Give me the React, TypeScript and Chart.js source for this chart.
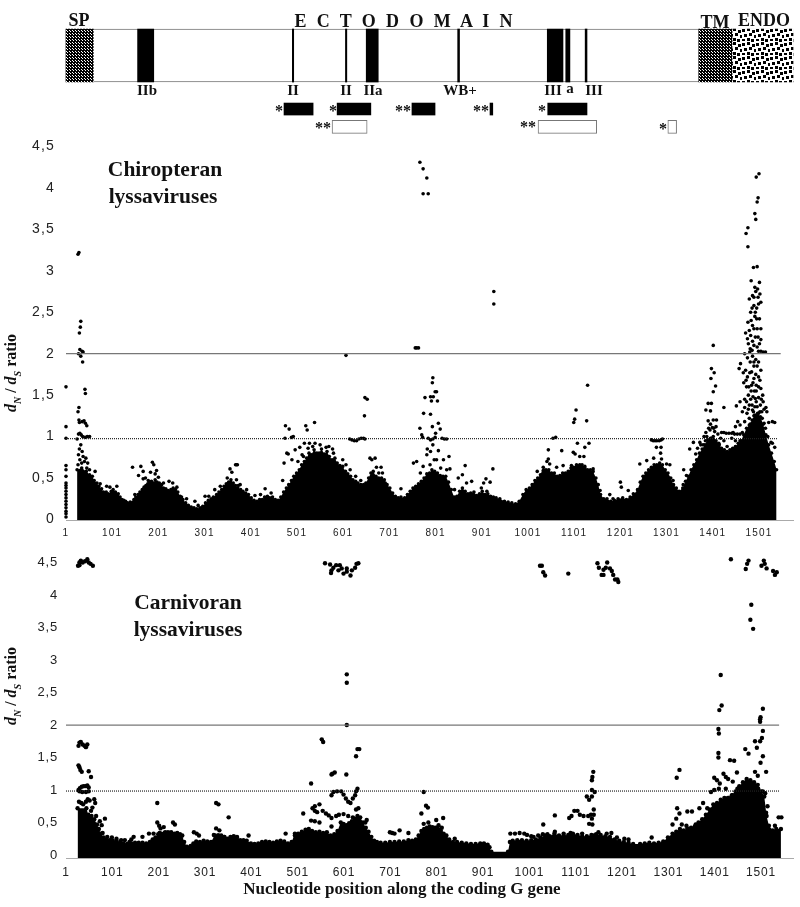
import React, { useEffect, useRef } from "react";
import { Chart, registerables } from "chart.js";
Chart.register(...registerables);

const xTickValues = [1, 101, 201, 301, 401, 501, 601, 701, 801, 901, 1001, 1101, 1201, 1301, 1401, 1501];
const yTickValues = [0, 0.5, 1, 1.5, 2, 2.5, 3, 3.5, 4, 4.5];

const chiroStart: number[][] = [[1,0.03],[1,0.07],[1,0.1],[1,0.14],[1,0.18],[1,0.22],[1,0.26],[1,0.3],[1,0.34],[1,0.38],[1,0.41],[1,0.44],[1,0.52],[1,0.6],[1,0.65],[1,0.98],[1,1.12],[1,1.6],[27,3.2],[29,3.22],[33,2.39],[32,2.32],[30,2.25],[31,2.05],[28,2.0],[36,2.03],[33,1.97],[38,2.02],[37,1.9],[42,1.57],[43,1.52],[29,1.35],[27,1.3],[29,1.2],[30,1.17],[36,1.18],[40,1.19],[43,1.16],[46,1.13],[28,1.03],[31,1.04],[34,1.02],[37,1.0],[42,0.99],[47,1.0],[52,1.0],[25,0.97],[30,0.85],[33,0.9],[36,0.82],[28,0.78],[31,0.72],[38,0.76],[41,0.7],[44,0.74],[48,0.68],[27,0.66],[35,0.68],[46,0.62],[52,0.6],[64,0.58],[47,0.51],[75,0.43],[89,0.4],[96,0.39],[111,0.4],[107,0.29],[126,0.23],[145,0.63],[163,0.64],[158,0.53],[168,0.58],[168,0.49],[188,0.69],[191,0.66],[197,0.59],[184,0.57],[179,0.47],[201,0.51],[224,0.46],[241,0.39],[251,0.27],[280,0.22],[287,0.17],[302,0.28],[323,0.36],[356,0.61],[368,0.66],[370,0.66],[372,0.66],[360,0.57],[370,0.48],[374,0.41],[410,0.29],[432,0.37],[150,0.3],[173,0.5],[194,0.55],[212,0.44],[232,0.44],[262,0.25],[310,0.28],[335,0.4],[350,0.5],[378,0.42],[392,0.36],[422,0.3],[445,0.32]];
const chiroMiddle: number[][] = [[476,1.13],[484,1.09],[520,1.13],[523,1.08],[539,1.17],[489,0.99],[475,0.98],[493,1.0],[607,1.98],[647,1.25],[648,1.47],[653,1.45],[757,2.07],[760,2.07],[764,2.07],[795,1.71],[794,1.65],[800,1.54],[803,1.54],[778,1.47],[790,1.48],[796,1.48],[792,1.43],[805,1.43],[775,1.28],[790,1.27],[807,1.16],[794,1.12],[767,1.1],[811,1.09],[801,1.04],[771,1.02],[785,0.98],[790,0.96],[795,0.97],[800,0.99],[815,0.98],[820,0.97],[825,0.97],[773,0.99],[615,0.97],[620,0.96],[625,0.95],[630,0.95],[635,0.97],[640,0.98],[645,0.98],[648,0.97],[767,4.31],[774,4.23],[782,4.12],[774,3.93],[785,3.93],[927,2.75],[927,2.6],[470,0.47],[473,0.68],[479,0.8],[482,0.79],[490,0.72],[497,0.84],[507,0.87],[515,0.76],[517,0.92],[528,0.92],[540,0.92],[551,0.9],[564,0.87],[578,0.85],[580,0.8],[607,0.66],[616,0.6],[591,0.58],[639,0.47],[659,0.74],[663,0.72],[670,0.74],[673,0.63],[683,0.63],[686,0.56],[692,0.44],[726,0.37],[753,0.68],[760,0.7],[774,0.64],[782,0.78],[789,0.66],[798,0.72],[803,0.72],[807,0.83],[818,0.72],[830,0.76],[832,0.61],[850,0.5],[859,0.54],[865,0.65],[868,0.44],[879,0.46],[910,0.49],[919,0.45],[925,0.61],[912,0.34],[795,0.9],[790,0.82],[783,0.85],[503,0.7],[512,0.78],[525,0.86],[535,0.88],[570,0.88],[600,0.72],[628,0.52],[678,0.56],[768,0.56],[812,0.62],[825,0.6],[842,0.36],[900,0.38],[905,0.44]];
const chiroRight: number[][] = [[1130,1.62],[1105,1.32],[1102,1.21],[1100,1.17],[1128,1.19],[1055,0.98],[1061,0.99],[1108,0.92],[1133,0.92],[1124,0.87],[1045,0.84],[1074,0.83],[1099,0.81],[1103,0.79],[1113,0.76],[1122,0.76],[1045,0.73],[1042,0.7],[1021,0.58],[1034,0.59],[1048,0.67],[1063,0.63],[1077,0.65],[1095,0.65],[1113,0.66],[1124,0.62],[1142,0.61],[1157,0.35],[1178,0.3],[1201,0.45],[1203,0.39],[1218,0.35],[1229,0.31],[1185,0.25],[1243,0.67],[1258,0.71],[1273,0.74],[1290,0.73],[1301,0.67],[1308,0.66],[1315,0.47],[1338,0.6],[1344,0.53],[1337,0.42],[1268,0.96],[1272,0.95],[1276,0.95],[1280,0.95],[1285,0.95],[1289,0.96],[1292,0.97],[1279,0.87],[1289,0.87],[1288,0.8],[1359,0.93],[1351,0.85],[1364,0.79],[1373,0.93],[1402,2.1],[1398,1.82],[1404,1.77],[1397,1.7],[1407,1.61],[1402,1.54],[1391,1.4],[1398,1.4],[1396,1.31],[1386,1.32],[1425,1.35],[1391,1.19],[1402,1.2],[1409,1.2],[1400,1.11],[1395,1.08],[1405,1.06],[1388,1.0],[1398,0.98],[1380,0.9],[1390,0.92],[1415,0.9],[1420,1.05],[1425,1.05],[1430,1.04],[1436,1.04],[1442,1.04],[1448,1.03],[1454,1.03],[1460,1.03],[1382,1.0],[1386,1.05],[1392,1.1],[1396,1.15],[1403,1.1],[1408,1.12],[1412,1.03],[1418,0.98],[1385,0.95],[1375,0.9],[1368,0.86]];
const chiroPeak: number[][] = [[1501,4.17],[1495,4.13],[1499,3.88],[1497,3.83],[1492,3.69],[1494,3.62],[1477,3.52],[1473,3.45],[1477,3.29],[1497,3.05],[1489,3.04],[1484,2.88],[1502,2.86],[1492,2.8],[1498,2.78],[1487,2.7],[1480,2.66],[1505,2.62],[1490,2.58],[1496,2.55],[1500,2.6],[1483,2.5],[1492,2.45],[1502,2.42],[1477,2.38],[1487,2.34],[1497,2.3],[1472,2.25],[1483,2.22],[1493,2.2],[1505,2.17],[1478,2.12],[1490,2.1],[1497,2.08],[1510,2.02],[1515,2.02],[1470,2.0],[1481,2.02],[1476,1.95],[1487,1.97],[1494,1.93],[1500,1.9],[1458,1.82],[1461,1.88],[1467,1.77],[1481,1.77],[1473,1.68],[1490,1.85],[1500,1.72],[1485,1.62],[1495,1.62],[1505,1.58],[1478,1.5],[1488,1.48],[1500,1.47],[1470,1.45],[1510,1.42],[1460,1.42],[1480,1.38],[1492,1.36],[1503,1.3],[1516,1.35],[1518,1.3],[1452,1.37],[1465,1.3],[1475,1.28],[1490,1.25],[1508,1.22],[1455,1.18],[1450,1.12],[1460,1.14],[1470,1.18],[1482,1.15],[1497,1.18],[1512,1.16],[1522,1.17],[1530,1.18],[1535,1.17],[1465,1.05],[1477,1.03],[1510,1.05],[1520,1.0],[1527,0.93],[1535,0.87],[1530,0.92],[1445,1.05],[1442,0.98],[1450,0.95],[1520,0.7],[1530,0.7],[1490,1.7],[1484,1.55],[1495,1.42],[1487,1.32],[1480,1.22],[1502,1.12],[1495,1.55],[1490,1.9],[1474,1.6],[1505,1.8],[1515,1.1],[1460,0.95],[1467,0.9],[1425,0.95],[1432,0.88],[1437,0.8],[1468,1.65],[1472,1.8],[1476,1.72],[1479,1.6],[1482,1.9],[1485,1.78],[1488,1.65],[1491,1.55],[1494,1.75],[1497,1.85],[1500,1.6],[1503,1.68],[1506,1.45],[1509,1.5],[1512,1.33],[1470,1.35],[1474,1.42],[1478,1.33],[1483,1.45],[1486,1.38],[1489,1.3],[1493,1.46],[1497,1.36],[1500,1.28],[1504,1.38],[1507,1.3],[1476,2.18],[1480,2.28],[1484,2.4],[1487,2.15],[1490,2.3],[1493,2.5],[1496,2.42],[1499,2.2],[1502,2.12],[1505,2.3],[1486,2.55],[1490,2.68],[1494,2.75],[1499,2.68],[1503,2.72],[1482,2.06],[1486,2.04],[1500,2.03],[1505,2.03]];
const chiroEdge: number[][] = [[25,0.6],[35,0.62],[45,0.58],[52,0.54],[58,0.52],[62,0.47],[68,0.44],[72,0.4],[78,0.37],[82,0.33],[88,0.33],[92,0.31],[99,0.34],[103,0.36],[108,0.33],[114,0.31],[118,0.27],[122,0.24],[130,0.22],[134,0.2],[140,0.21],[148,0.24],[152,0.27],[157,0.3],[161,0.33],[166,0.36],[170,0.39],[174,0.41],[178,0.43],[182,0.45],[186,0.46],[190,0.44],[194,0.48],[198,0.45],[203,0.44],[208,0.42],[212,0.38],[217,0.37],[222,0.35],[228,0.36],[233,0.38],[238,0.36],[243,0.33],[248,0.28],[254,0.24],[260,0.2],[266,0.17],[272,0.15],[278,0.14],[284,0.13],[291,0.14],[297,0.16],[303,0.2],[309,0.23],[315,0.25],[320,0.27],[327,0.3],[332,0.33],[338,0.36],[343,0.4],[348,0.43],[353,0.45],[358,0.48],[363,0.44],[368,0.41],[373,0.38],[379,0.36],[384,0.34],[390,0.32],[396,0.3],[402,0.26],[408,0.23],[414,0.22],[420,0.24],[426,0.24],[431,0.27],[437,0.28],[442,0.26],[448,0.27],[454,0.24],[460,0.23],[466,0.27],[472,0.33],[478,0.38],[483,0.42],[489,0.47],[494,0.52],[500,0.56],[506,0.6],[511,0.66],[517,0.7],[522,0.74],[527,0.8],[532,0.78],[538,0.84],[544,0.8],[549,0.8],[554,0.85],[560,0.79],[566,0.82],[571,0.76],[577,0.72],[583,0.74],[588,0.68],[594,0.65],[600,0.64],[606,0.58],[611,0.55],[617,0.52],[622,0.48],[628,0.46],[633,0.44],[639,0.42],[645,0.42],[650,0.44],[656,0.5],[661,0.56],[666,0.58],[672,0.52],[678,0.5],[684,0.5],[690,0.48],[696,0.42],[702,0.38],[708,0.32],[714,0.28],[720,0.26],[726,0.27],[734,0.26],[740,0.3],[746,0.34],[752,0.38],[758,0.4],[764,0.43],[770,0.46],[776,0.5],[782,0.55],[788,0.56],[793,0.6],[799,0.58],[805,0.56],[811,0.53],[817,0.52],[823,0.52],[829,0.45],[835,0.36],[841,0.27],[847,0.28],[853,0.34],[859,0.38],[865,0.34],[871,0.31],[877,0.32],[884,0.33],[890,0.29],[896,0.31],[902,0.34],[908,0.3],[914,0.31],[920,0.28],[926,0.27],[932,0.26],[940,0.25],[950,0.22],[958,0.21],[966,0.2],[974,0.19],[982,0.22],[990,0.3],[997,0.36],[1004,0.38],[1010,0.42],[1016,0.47],[1022,0.5],[1028,0.54],[1034,0.63],[1040,0.6],[1046,0.6],[1052,0.56],[1058,0.56],[1064,0.52],[1070,0.53],[1076,0.56],[1082,0.56],[1088,0.58],[1094,0.62],[1100,0.63],[1106,0.66],[1112,0.64],[1118,0.66],[1124,0.64],[1130,0.6],[1136,0.6],[1142,0.58],[1148,0.5],[1153,0.42],[1158,0.3],[1165,0.25],[1172,0.25],[1180,0.22],[1188,0.23],[1196,0.25],[1206,0.26],[1214,0.24],[1222,0.27],[1230,0.3],[1238,0.36],[1244,0.45],[1250,0.52],[1256,0.56],[1262,0.6],[1268,0.63],[1274,0.66],[1280,0.66],[1286,0.68],[1292,0.66],[1298,0.6],[1304,0.56],[1310,0.5],[1316,0.42],[1322,0.38],[1328,0.34],[1336,0.38],[1342,0.46],[1348,0.52],[1354,0.6],[1360,0.66],[1366,0.72],[1372,0.8],[1378,0.85],[1384,0.9],[1390,0.96],[1396,0.98],[1402,1.0],[1408,0.95],[1414,0.92],[1420,0.86],[1426,0.84],[1432,0.82],[1438,0.84],[1444,0.86],[1450,0.88],[1456,0.92],[1462,0.95],[1468,1.02],[1474,1.1],[1480,1.14],[1486,1.2],[1492,1.26],[1498,1.28],[1504,1.24],[1510,1.15],[1516,1.02],[1522,0.9],[1528,0.8],[1534,0.7],[1539,0.6]];

const carniTop: number[][] = [[27,4.45],[30,4.5],[33,4.53],[36,4.58],[40,4.6],[44,4.6],[47,4.55],[50,4.5],[54,4.48],[59,4.45],[30,4.46],[37,4.5],[42,4.52],[560,4.49],[571,4.47],[573,4.34],[578,4.42],[584,4.46],[592,4.46],[574,4.38],[589,4.38],[600,4.33],[596,4.41],[607,4.41],[607,4.36],[615,4.3],[618,4.38],[625,4.42],[632,4.49],[628,4.48],[1024,4.45],[1028,4.45],[1031,4.35],[1035,4.3],[1085,4.33],[1148,4.49],[1151,4.42],[1157,4.31],[1161,4.31],[1161,4.39],[1169,4.5],[1166,4.42],[1175,4.41],[1179,4.37],[1182,4.31],[1186,4.24],[1191,4.24],[1193,4.2],[1436,4.55],[1474,4.53],[1471,4.48],[1468,4.4],[1507,4.53],[1502,4.45],[1509,4.48],[1513,4.41],[1527,4.37],[1535,4.35],[1531,4.31],[1480,3.85],[1478,3.62],[1484,3.48],[607,2.78],[607,2.65],[607,2.0],[1414,2.77],[1416,2.3],[1411,2.23],[1505,2.25],[1500,2.12],[1499,2.05]];
const carniLeft: number[][] = [[28,1.68],[30,1.73],[33,1.74],[37,1.7],[41,1.68],[44,1.66],[47,1.7],[28,1.38],[30,1.35],[32,1.31],[35,1.28],[50,1.29],[55,1.2],[28,1.0],[31,1.03],[35,1.05],[39,1.06],[43,1.06],[47,1.07],[50,1.04],[30,0.98],[36,0.97],[44,0.97],[50,0.98],[29,0.82],[34,0.8],[38,0.78],[44,0.82],[48,0.86],[52,0.84],[62,0.86],[58,0.73],[64,0.8],[55,0.68],[66,0.6],[74,0.52],[85,0.56],[78,0.46],[80,0.34],[90,0.28],[100,0.27],[110,0.25],[120,0.23],[128,0.23],[138,0.2],[142,0.24],[147,0.28],[166,0.28],[180,0.33],[190,0.33],[198,0.8],[198,0.5],[202,0.45],[205,0.41],[212,0.43],[203,0.34],[215,0.35],[225,0.34],[232,0.5],[236,0.47],[243,0.3],[277,0.35],[283,0.33],[288,0.3],[325,0.8],[330,0.78],[325,0.41],[332,0.38],[320,0.31],[330,0.3],[352,0.58],[342,0.28],[362,0.28],[370,0.28],[395,0.3]];
const carniMid: number[][] = [[553,1.78],[556,1.74],[630,1.63],[634,1.63],[627,1.52],[581,1.27],[576,1.25],[574,1.24],[606,1.24],[530,1.1],[630,1.02],[627,0.98],[773,0.97],[574,0.92],[578,0.97],[586,0.98],[595,0.98],[600,0.93],[605,0.87],[610,0.82],[615,0.8],[620,0.87],[625,0.92],[513,0.64],[533,0.72],[538,0.75],[548,0.78],[538,0.68],[543,0.66],[555,0.68],[530,0.53],[538,0.52],[548,0.5],[562,0.64],[568,0.61],[574,0.57],[584,0.6],[590,0.62],[600,0.63],[610,0.6],[620,0.58],[627,0.7],[632,0.72],[574,0.44],[475,0.33],[700,0.35],[705,0.34],[710,0.33],[721,0.38],[740,0.34],[840,0.25],[768,0.64],[778,0.76],[782,0.73],[773,0.48],[783,0.5],[800,0.54],[815,0.57],[805,0.46],[812,0.42],[650,0.54],[647,0.5],[495,0.3],[505,0.3],[960,0.33],[970,0.33],[980,0.34],[990,0.33],[996,0.31],[1010,0.28],[1020,0.3]];
const carniRight: number[][] = [[1139,1.28],[1137,1.2],[1136,1.15],[1319,1.19],[1325,1.31],[1056,0.61],[1031,0.47],[1087,0.57],[1092,0.6],[1098,0.68],[1105,0.68],[1110,0.62],[1118,0.6],[1128,0.6],[1134,0.62],[1140,0.7],[1140,0.62],[1136,0.56],[1130,0.48],[1137,0.47],[1125,0.9],[1130,0.85],[1136,0.9],[1142,0.97],[1136,1.0],[1005,0.29],[1030,0.32],[1040,0.32],[1056,0.36],[1075,0.33],[1090,0.34],[1115,0.33],[1140,0.3],[1150,0.35],[1168,0.33],[1178,0.34],[1190,0.27],[1206,0.25],[1215,0.24],[1265,0.27],[1409,1.94],[1410,1.87],[1409,1.57],[1409,1.5],[1434,1.46],[1443,1.45],[1449,1.27],[1499,2.09],[1505,1.91],[1503,1.8],[1499,1.75],[1492,1.65],[1488,1.75],[1467,1.63],[1474,1.56],[1505,1.52],[1500,1.42],[1488,1.28],[1494,1.22],[1512,1.28],[1539,0.58],[1545,0.58],[1531,0.45],[1400,1.19],[1406,1.15],[1412,1.1],[1420,1.25],[1425,1.2],[1430,1.17],[1440,1.13],[1393,0.97],[1400,1.0],[1410,1.02],[1425,1.02],[1376,0.8],[1385,0.72],[1368,0.72],[1352,0.67],[1342,0.67],[1320,0.72],[1325,0.64],[1318,0.56],[1310,0.47],[1330,0.47],[1340,0.45],[1360,0.47],[1460,1.0],[1470,1.12],[1478,1.12],[1485,1.05],[1495,1.02],[1505,0.98],[1510,0.95],[1515,0.75],[1512,0.65],[1450,1.02],[1440,0.92],[1430,0.88]];
const carniEdge: number[][] = [[26,0.72],[45,0.72],[49,0.62],[56,0.6],[62,0.55],[68,0.47],[72,0.4],[76,0.33],[82,0.27],[88,0.24],[95,0.23],[102,0.22],[110,0.22],[118,0.2],[125,0.18],[133,0.17],[142,0.18],[150,0.19],[158,0.19],[166,0.19],[174,0.18],[182,0.2],[188,0.24],[194,0.27],[200,0.32],[207,0.33],[214,0.34],[221,0.35],[228,0.35],[235,0.33],[241,0.34],[247,0.32],[252,0.3],[256,0.2],[262,0.13],[270,0.14],[276,0.18],[282,0.21],[290,0.2],[298,0.22],[306,0.21],[314,0.2],[322,0.3],[329,0.3],[336,0.3],[343,0.28],[350,0.25],[356,0.28],[363,0.29],[370,0.27],[377,0.23],[384,0.23],[391,0.22],[400,0.18],[408,0.17],[416,0.18],[424,0.2],[432,0.21],[440,0.2],[448,0.19],[456,0.21],[464,0.22],[472,0.21],[480,0.18],[488,0.2],[495,0.33],[502,0.33],[510,0.36],[518,0.39],[525,0.4],[532,0.37],[540,0.35],[548,0.36],[556,0.34],[564,0.35],[572,0.3],[580,0.32],[587,0.37],[594,0.5],[600,0.48],[606,0.46],[612,0.49],[618,0.52],[624,0.56],[630,0.6],[636,0.58],[642,0.5],[648,0.42],[654,0.36],[660,0.28],[666,0.22],[672,0.2],[680,0.19],[690,0.19],[700,0.2],[710,0.2],[720,0.21],[730,0.21],[740,0.23],[748,0.22],[756,0.24],[762,0.3],[768,0.37],[774,0.4],[780,0.42],[786,0.44],[792,0.43],[798,0.42],[804,0.4],[810,0.37],[816,0.33],[822,0.3],[828,0.24],[836,0.2],[845,0.2],[855,0.19],[865,0.18],[875,0.17],[885,0.17],[895,0.18],[903,0.18],[911,0.16],[915,0.12],[919,0.05],[955,0.05],[959,0.2],[965,0.22],[975,0.23],[985,0.23],[995,0.22],[1005,0.23],[1015,0.24],[1025,0.27],[1035,0.3],[1045,0.29],[1055,0.33],[1065,0.3],[1075,0.3],[1085,0.31],[1095,0.33],[1105,0.31],[1115,0.29],[1125,0.29],[1135,0.31],[1145,0.32],[1155,0.31],[1165,0.29],[1175,0.28],[1185,0.24],[1195,0.22],[1205,0.2],[1215,0.19],[1225,0.17],[1240,0.17],[1250,0.18],[1260,0.19],[1270,0.18],[1280,0.19],[1290,0.21],[1300,0.27],[1310,0.33],[1318,0.36],[1326,0.4],[1334,0.38],[1342,0.41],[1350,0.42],[1358,0.44],[1366,0.5],[1374,0.55],[1382,0.62],[1390,0.7],[1398,0.78],[1406,0.8],[1414,0.85],[1422,0.88],[1430,0.88],[1438,0.92],[1446,0.98],[1454,1.06],[1462,1.12],[1470,1.17],[1478,1.15],[1486,1.12],[1494,1.08],[1502,0.98],[1508,0.9],[1513,0.6],[1518,0.45],[1526,0.38],[1534,0.4],[1544,0.4]];

const refLineEnd = 1540;

function dots(points: number[][], r: number) {
  return { data: points.map(([x, y]) => ({ x, y })), pointRadius: r, pointHoverRadius: r, backgroundColor: "#000", borderWidth: 0, showLine: false, order: 3, clip: false as const };
}
function mass(points: number[][], r: number) {
  return { data: points.map(([x, y]) => ({ x, y })), showLine: true, pointRadius: r, backgroundColor: "#000", pointBackgroundColor: "#000", pointBorderWidth: 0, borderWidth: 0, borderColor: "#000", fill: "start", order: 4, clip: false as const };
}
function refLine(y: number, end: number, color: string, dash: number[], width: number) {
  return { data: [{ x: 1, y }, { x: end, y }], showLine: true, pointRadius: 0, borderWidth: width, borderColor: color, borderDash: dash, fill: false, order: 1, clip: false as const };
}
const plotOptions = (o: { xMax: number; yMin: number; yMax: number; top: number; axisH: number; xFont: number; xPad: number; yFont: number; yPad: number }): any => ({
  responsive: false,
  animation: false,
  events: [],
  layout: { autoPadding: false, padding: { top: o.top, right: 7, left: 0, bottom: 0 } },
  plugins: { legend: { display: false }, tooltip: { enabled: false } },
  scales: {
    x: {
      type: "linear", min: 1, max: o.xMax,
      afterBuildTicks: (s: any) => { s.ticks = xTickValues.map((value) => ({ value })); },
      afterFit: (s: any) => { s.height = o.axisH; },
      grid: { display: false, drawTicks: false },
      border: { display: true, color: "#aaa", width: 1 },
      ticks: { autoSkip: false, maxRotation: 0, padding: o.xPad, color: "#222", font: { family: "'Liberation Sans'", size: o.xFont }, callback: (v: any) => String(v) },
    },
    y: {
      type: "linear", min: o.yMin, max: o.yMax,
      afterBuildTicks: (s: any) => { s.ticks = yTickValues.map((value) => ({ value })); },
      afterFit: (s: any) => { s.width = 66; },
      grid: { display: false, drawTicks: false },
      border: { display: false },
      ticks: { autoSkip: false, padding: o.yPad, color: "#222", font: { family: "'Liberation Sans'", size: o.yFont }, callback: (v: any) => String(v).replace(".", ",") },
    },
  },
});
const spaced = (sp: string) => ({ id: "spaced", beforeDraw: (c: any) => { c.ctx.letterSpacing = sp; } });

// Gene map rows and segments, in nucleotides
const geneRows = ["gene", "gapA", "gapB", "black", "open"];
const geneOutline = [[1, 1575]];
const spSegment = [[1, 60]];
const tmSegment = [[1371, 1443]];
const endoSegment = [[1443, 1575]];
const sitesSegments = [[156, 191], [491, 494], [606, 609], [651, 677], [849, 853], [1043, 1077], [1083, 1092], [1125, 1129]];
const blackBoxes = [[473, 536], [588, 661], [750, 800], [919, 925], [1044, 1129]];
const openBoxes = [[577, 653], [1023, 1150], [1304, 1323]];

function tile(size: number, paint: (c: CanvasRenderingContext2D) => void) {
  const cv = document.createElement("canvas");
  cv.width = size; cv.height = size;
  const c = cv.getContext("2d")!;
  c.fillStyle = "#fff"; c.fillRect(0, 0, size, size);
  c.fillStyle = "#000"; paint(c);
  return c.createPattern(cv, "repeat")!;
}

const Lbl = ({ x, y, size, children, extra }: any) => (
  <div style={{ position: "absolute", left: x, top: y, transform: "translate(-50%,-50%)", font: `bold ${size}px 'Liberation Serif'`, color: "#111", whiteSpace: "nowrap", lineHeight: 1, ...extra }}>{children}</div>
);
const YTitle = ({ x, y }: any) => (
  <div style={{ position: "absolute", left: x, top: y, transform: "translate(-50%,-50%) rotate(-90deg)", font: "bold 16px 'Liberation Serif'", color: "#111", whiteSpace: "nowrap", lineHeight: 1 }}>
    <i>d</i><sub style={{ fontSize: 10, fontStyle: "italic" }}>N</sub> / <i>d</i><sub style={{ fontSize: 10, fontStyle: "italic" }}>S</sub> ratio
  </div>
);

export default function App() {
  const geneRef = useRef<HTMLCanvasElement>(null);
  const topRef = useRef<HTMLCanvasElement>(null);
  const botRef = useRef<HTMLCanvasElement>(null);
  useEffect(() => {
    document.body.style.margin = "0";
    const dither = tile(3, (c) => { c.fillRect(0, 0, 3, 3); c.fillStyle = "#fff"; c.fillRect(1, 1, 1, 1); c.fillRect(0, 0, 1, 1); });
    const blobs = tile(14, (c) => { [[0,1,3,3],[5,0,3,3],[10,2,3,3],[2,6,3,3],[7,5,3,3],[12,7,2,3],[0,11,3,2],[5,10,3,3],[9,11,3,3]].forEach((r) => c.fillRect(r[0], r[1], r[2], r[3])); });
    const seg = (pairs: number[][], row: string) => pairs.map(([a, b]) => ({ x: [a, b], y: row }));
    const gene = new Chart(geneRef.current!, {
      type: "bar",
      data: {
        labels: geneRows,
        datasets: [
          { data: seg(geneOutline, "gene"), backgroundColor: "#fff", borderColor: "#777", borderWidth: 1, borderSkipped: false, barThickness: 53, grouped: false, order: 5, clip: false },
          { data: seg(spSegment, "gene"), backgroundColor: dither, barThickness: 53, grouped: false, order: 2, clip: false },
          { data: seg(tmSegment, "gene"), backgroundColor: dither, barThickness: 53, grouped: false, order: 2, clip: false },
          { data: seg(endoSegment, "gene"), backgroundColor: blobs, barThickness: 53, grouped: false, order: 2, clip: false },
          { data: seg(sitesSegments, "gene"), backgroundColor: "#000", barThickness: 53, grouped: false, order: 1, clip: false },
          { data: seg(blackBoxes, "black"), backgroundColor: "#000", barThickness: 12, grouped: false, order: 1, clip: false },
          { data: seg(openBoxes, "open"), backgroundColor: "#fff", borderColor: "#777", borderWidth: 1, borderSkipped: false, barThickness: 13, grouped: false, order: 1, clip: false },
        ],
      } as any,
      options: {
        indexAxis: "y", responsive: false, animation: false, events: [],
        layout: { padding: { left: 66, right: 7, top: 46.6, bottom: 4.2 } },
        plugins: { legend: { display: false }, tooltip: { enabled: false } },
        scales: { x: { type: "linear", min: 1, max: 1575, display: false }, y: { type: "category", display: false } },
      } as any,
    });
    const top = new Chart(topRef.current!, {
      type: "scatter",
      data: { datasets: [
        mass(chiroEdge, 1.8), dots(chiroStart, 1.8), dots(chiroMiddle, 1.8), dots(chiroRight, 1.8), dots(chiroPeak, 1.8),
        refLine(2, refLineEnd + 8, "#777", [], 1.2), refLine(0.975, refLineEnd, "#222", [1, 1], 1.2),
      ] } as any,
      options: plotOptions({ xMax: 1574.6, yMin: -0.01, yMax: 4.585, top: 15, axisH: 19.7, xFont: 10, xPad: 6.5, yFont: 14, yPad: 11 }),
      plugins: [spaced("1.2px")],
    });
    const bot = new Chart(botRef.current!, {
      type: "scatter",
      data: { datasets: [
        mass(carniEdge, 2.2), dots(carniTop, 2.2), dots(carniLeft, 2.2), dots(carniMid, 2.2), dots(carniRight, 2.2),
        refLine(2, refLineEnd, "#777", [], 1.2), refLine(0.985, refLineEnd, "#222", [1, 1], 1.2),
      ] } as any,
      options: plotOptions({ xMax: 1570, yMin: -0.045, yMax: 4.527, top: 4.5, axisH: 49, xFont: 12, xPad: 7, yFont: 13, yPad: 8 }),
      plugins: [spaced("0.8px")],
    });
    return () => { gene.destroy(); top.destroy(); bot.destroy(); };
  }, []);
  const abs = (t: number): React.CSSProperties => ({ position: "absolute", left: 0, top: t, display: "block" });
  return (
    <div style={{ position: "absolute", left: 0, top: 0, width: 800, height: 907, overflow: "hidden", background: "#fff" }}>
      <canvas ref={geneRef} width={800} height={140} style={abs(0)} />
      <canvas ref={topRef} width={800} height={420} style={abs(120)} />
      <canvas ref={botRef} width={800} height={362} style={abs(545)} />
      <Lbl x={79} y={20} size={18}>SP</Lbl>
      <Lbl x={405} y={21} size={18} extra={{ letterSpacing: "2.9px" }}>E C T O D O M A I N</Lbl>
      <Lbl x={715} y={22} size={18}>TM</Lbl>
      <Lbl x={764} y={20} size={18}>ENDO</Lbl>
      <Lbl x={147} y={90} size={15}>IIb</Lbl>
      <Lbl x={293} y={90} size={15}>II</Lbl>
      <Lbl x={346} y={90} size={15}>II</Lbl>
      <Lbl x={373} y={90} size={15}>IIa</Lbl>
      <Lbl x={460} y={90} size={15}>WB+</Lbl>
      <Lbl x={553} y={90} size={15}>III</Lbl>
      <Lbl x={570} y={88} size={15}>a</Lbl>
      <Lbl x={594} y={90} size={15}>III</Lbl>
      <Lbl x={279} y={111} size={16}>*</Lbl>
      <Lbl x={333} y={111} size={16}>*</Lbl>
      <Lbl x={403} y={111} size={16}>**</Lbl>
      <Lbl x={481} y={111} size={16}>**</Lbl>
      <Lbl x={542} y={111} size={16}>*</Lbl>
      <Lbl x={323} y={128} size={16}>**</Lbl>
      <Lbl x={528} y={127} size={16}>**</Lbl>
      <Lbl x={663} y={129} size={16}>*</Lbl>
      <Lbl x={165} y={170} size={21.5}>Chiropteran</Lbl>
      <Lbl x={163} y={197} size={21.5}>lyssaviruses</Lbl>
      <Lbl x={188} y={603} size={21.5}>Carnivoran</Lbl>
      <Lbl x={188} y={630} size={21.5}>lyssaviruses</Lbl>
      <YTitle x={13} y={373} />
      <YTitle x={13} y={686} />
      <Lbl x={402} y={888} size={17}>Nucleotide position along the coding G gene</Lbl>
    </div>
  );
}
